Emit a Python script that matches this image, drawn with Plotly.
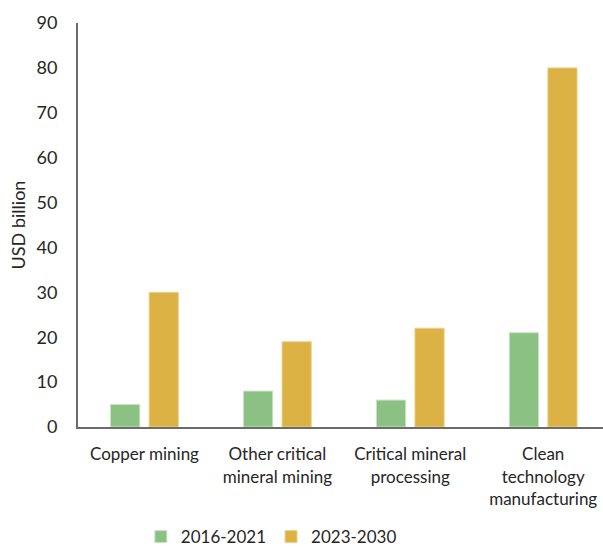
import plotly.graph_objects as go

categories = ["Copper mining", "Other critical<br>mineral mining",
              "Critical mineral<br>processing", "Clean<br>technology<br>manufacturing"]
series_names = ["2016-2021", "2023-2030"]
values_2016_2021 = [5, 8, 6, 21]
values_2023_2030 = [30, 19, 22, 80]
y_ticks = [0, 10, 20, 30, 40, 50, 60, 70, 80, 90]

GREEN = "#8bc183"
GOLD = "#dbb243"
FONT = "Lato, 'Noto Sans', sans-serif"

x_idx = list(range(len(categories)))

fig = go.Figure()
fig.add_trace(go.Bar(
    x=x_idx, y=values_2016_2021, name=series_names[0],
    marker=dict(color=GREEN, line=dict(color="#c9e3c4", width=1)),
    width=0.22, offset=-0.255,
))
fig.add_trace(go.Bar(
    x=x_idx, y=values_2023_2030, name=series_names[1],
    marker=dict(color=GOLD, line=dict(color="#ecd48e", width=1)),
    width=0.22, offset=0.035,
))

fig.update_layout(
    width=603, height=548,
    margin=dict(l=78, r=0, t=23, b=121, autoexpand=False),
    plot_bgcolor="white", paper_bgcolor="white",
    font=dict(family=FONT, color="#262626"),
    showlegend=True,
    legend=dict(orientation="h", xref="container", yref="container",
                x=0.45, xanchor="center", y=0.02, yanchor="middle",
                font=dict(size=17, color="#262626"), itemwidth=30,
                traceorder="normal"),
    xaxis=dict(
        tickmode="array", tickvals=x_idx, ticktext=categories,
        range=[-0.5, 3.45], showline=True, linecolor="#6b6b6b", linewidth=2,
        ticks="", tickfont=dict(size=17, color="#262626"), showgrid=False,
        zeroline=False, ticklabelstandoff=11, automargin=False,
    ),
    yaxis=dict(
        range=[0, 90], tickvals=y_ticks, showline=True, linecolor="#6b6b6b",
        linewidth=2, ticks="", showgrid=False, zeroline=False, automargin=False,
        tickfont=dict(size=18, color="#262626"), ticklabelstandoff=15,
        title=dict(text="USD billion", font=dict(size=18, color="#262626"), standoff=6),
    ),
)

fig.write_html("out.html")
